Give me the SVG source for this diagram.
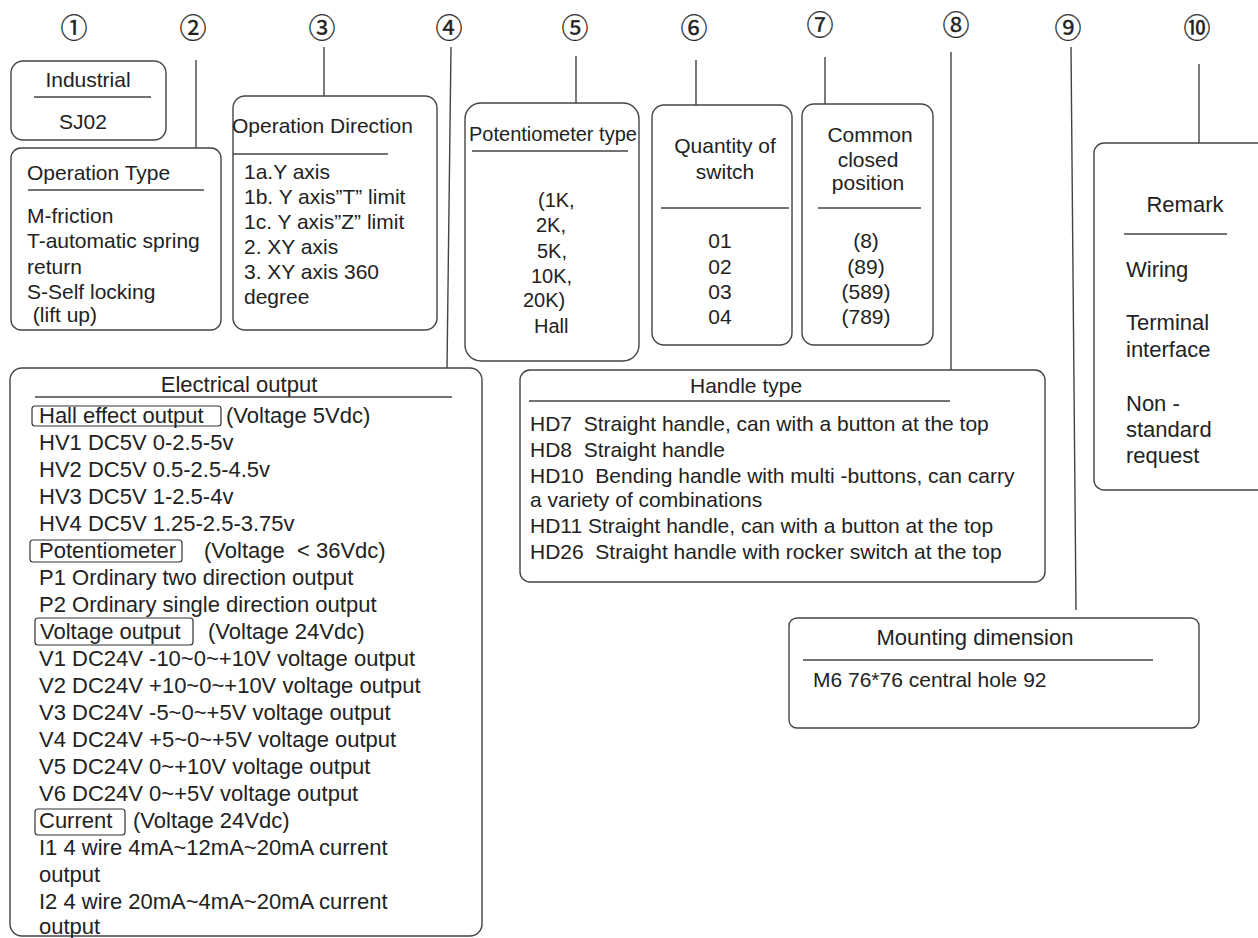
<svg xmlns="http://www.w3.org/2000/svg" width="1258" height="938" viewBox="0 0 1258 938">
<style>
text{font-family:"Liberation Sans",Arial,sans-serif;fill:#222;white-space:pre}
.f22{font-size:22px}
.f21{font-size:21px}
.f20{font-size:20px}
.c{text-anchor:middle}
.num{font-family:"Noto Sans CJK SC","DejaVu Sans",sans-serif;font-size:27px;text-anchor:middle;fill:#222;stroke:#222;stroke-width:0.3}
.box{fill:none;stroke:#444;stroke-width:1.4}
.sep{stroke:#444;stroke-width:1.4}
.lbl{fill:none;stroke:#333;stroke-width:1.2}
.con{stroke:#444;stroke-width:1.4;fill:none}
</style>
<rect width="1258" height="938" fill="#fff"/>

<g id="numbers">
<text class="num" x="74" y="37.5">①</text>
<text class="num" x="193" y="37.5">②</text>
<text class="num" x="322" y="37.5">③</text>
<text class="num" x="449" y="37.5">④</text>
<text class="num" x="575" y="37.5">⑤</text>
<text class="num" x="694" y="37.5">⑥</text>
<text class="num" x="820" y="34.5">⑦</text>
<text class="num" x="956" y="34.5">⑧</text>
<text class="num" x="1068" y="37.5">⑨</text>
<text class="num" x="1197" y="37.5">⑩</text>
</g>

<g id="connectors">
<line class="con" x1="196" y1="60" x2="196" y2="148"/>
<line class="con" x1="324" y1="47" x2="324" y2="96"/>
<line class="con" x1="451" y1="47" x2="447" y2="368"/>
<line class="con" x1="576" y1="56" x2="576" y2="103"/>
<line class="con" x1="696" y1="60" x2="696" y2="105"/>
<line class="con" x1="825" y1="57" x2="825" y2="104"/>
<line class="con" x1="951" y1="52" x2="951" y2="370"/>
<line class="con" x1="1071" y1="47" x2="1076" y2="610"/>
<line class="con" x1="1199" y1="64" x2="1199" y2="143"/>
</g>

<g id="industrial">
<rect class="box" x="11" y="61" width="155" height="79" rx="12"/>
<text class="f21 c" x="88" y="87">Industrial</text>
<line class="sep" x1="34" y1="97" x2="151" y2="97"/>
<text class="f21 c" x="83" y="129">SJ02</text>
</g>

<g id="operation-type">
<rect class="box" x="11" y="148" width="210" height="182" rx="10"/>
<text class="f21" x="27" y="180">Operation Type</text>
<line class="sep" x1="28" y1="190" x2="204" y2="190"/>
<text class="f21" x="27" y="223">M-friction</text>
<text class="f21" x="27" y="248">T-automatic spring</text>
<text class="f21" x="27" y="274">return</text>
<text class="f21" x="27" y="299">S-Self locking</text>
<text class="f21" x="27" y="322"> (lift up)</text>
</g>

<g id="operation-direction">
<rect class="box" x="233" y="96" width="204" height="234" rx="12"/>
<text class="f21" x="232" y="133">Operation Direction</text>
<line class="sep" x1="233" y1="154" x2="388" y2="154"/>
<text class="f21" x="244" y="179">1a.Y axis</text>
<text class="f21" x="244" y="204">1b. Y axis”T” limit</text>
<text class="f21" x="244" y="229">1c. Y axis”Z” limit</text>
<text class="f21" x="244" y="254">2. XY axis</text>
<text class="f21" x="244" y="279">3. XY axis 360</text>
<text class="f21" x="244" y="304">degree</text>
</g>

<g id="potentiometer-type">
<rect class="box" x="465" y="103" width="174" height="258" rx="16"/>
<text class="f20" x="469" y="141">Potentiometer type</text>
<line class="sep" x1="472" y1="151" x2="628" y2="151"/>
<text class="f20" x="538" y="207">(1K,</text>
<text class="f20" x="536" y="232">2K,</text>
<text class="f20" x="537" y="258">5K,</text>
<text class="f20" x="531" y="283">10K,</text>
<text class="f20" x="523" y="307">20K)</text>
<text class="f20" x="534" y="333">Hall</text>
</g>

<g id="quantity-of-switch">
<rect class="box" x="652" y="105" width="140" height="240" rx="12"/>
<text class="f21 c" x="725" y="153">Quantity of</text>
<text class="f21 c" x="725" y="179">switch</text>
<line class="sep" x1="661" y1="208" x2="789" y2="208"/>
<text class="f21 c" x="720" y="248">01</text>
<text class="f21 c" x="720" y="274">02</text>
<text class="f21 c" x="720" y="299">03</text>
<text class="f21 c" x="720" y="324">04</text>
</g>

<g id="common-closed-position">
<rect class="box" x="802" y="104" width="131" height="241" rx="12"/>
<text class="f21 c" x="870" y="142">Common</text>
<text class="f21 c" x="868" y="167">closed</text>
<text class="f21 c" x="868" y="190">position</text>
<line class="sep" x1="818" y1="208" x2="921" y2="208"/>
<text class="f21 c" x="866" y="248">(8)</text>
<text class="f21 c" x="866" y="274">(89)</text>
<text class="f21 c" x="866" y="299">(589)</text>
<text class="f21 c" x="866" y="324">(789)</text>
</g>

<g id="remark">
<rect class="box" x="1094" y="143" width="180" height="347" rx="10"/>
<text class="f22 c" x="1185" y="212">Remark</text>
<line class="sep" x1="1124" y1="234" x2="1227" y2="234"/>
<text class="f22" x="1126" y="277">Wiring</text>
<text class="f22" x="1126" y="330">Terminal</text>
<text class="f22" x="1126" y="357">interface</text>
<text class="f22" x="1126" y="411">Non -</text>
<text class="f22" x="1126" y="437">standard</text>
<text class="f22" x="1126" y="463">request</text>
</g>

<g id="electrical-output">
<rect class="box" x="10" y="368" width="472" height="568" rx="12"/>
<text class="f22 c" x="239" y="392">Electrical output</text>
<line class="sep" x1="35" y1="397" x2="452" y2="397"/>
<rect class="lbl" x="32" y="406" width="189" height="20" rx="3"/>
<text class="f22" x="39" y="423">Hall effect output </text>
<text class="f22" x="226" y="423">(Voltage 5Vdc)</text>
<text class="f22" x="39" y="450">HV1 DC5V 0-2.5-5v</text>
<text class="f22" x="39" y="477">HV2 DC5V 0.5-2.5-4.5v</text>
<text class="f22" x="39" y="504">HV3 DC5V 1-2.5-4v</text>
<text class="f22" x="39" y="531">HV4 DC5V 1.25-2.5-3.75v</text>
<rect class="lbl" x="30" y="540" width="152" height="22" rx="3"/>
<text class="f22" x="39" y="558">Potentiometer</text>
<text class="f22" x="204" y="558">(Voltage  &lt; 36Vdc)</text>
<text class="f22" x="39" y="585">P1 Ordinary two direction output</text>
<text class="f22" x="39" y="612">P2 Ordinary single direction output</text>
<rect class="lbl" x="35" y="618" width="158" height="27" rx="3"/>
<text class="f22" x="40" y="639">Voltage output</text>
<text class="f22" x="208" y="639">(Voltage 24Vdc)</text>
<text class="f22" x="39" y="666">V1 DC24V -10~0~+10V voltage output</text>
<text class="f22" x="39" y="693">V2 DC24V +10~0~+10V voltage output</text>
<text class="f22" x="39" y="720">V3 DC24V -5~0~+5V voltage output</text>
<text class="f22" x="39" y="747">V4 DC24V +5~0~+5V voltage output</text>
<text class="f22" x="39" y="774">V5 DC24V 0~+10V voltage output</text>
<text class="f22" x="39" y="801">V6 DC24V 0~+5V voltage output</text>
<rect class="lbl" x="35" y="809" width="90" height="26" rx="3"/>
<text class="f22" x="39" y="828">Current</text>
<text class="f22" x="133" y="828">(Voltage 24Vdc)</text>
<text class="f22" x="39" y="855">I1 4 wire 4mA~12mA~20mA current</text>
<text class="f22" x="39" y="882">output</text>
<text class="f22" x="39" y="909">I2 4 wire 20mA~4mA~20mA current</text>
<text class="f22" x="39" y="934">output</text>
</g>

<g id="handle-type">
<rect class="box" x="520" y="370" width="525" height="212" rx="10"/>
<text class="f21" x="690" y="393">Handle type</text>
<line class="sep" x1="529" y1="401" x2="950" y2="401"/>
<text class="f21" x="530" y="431">HD7  Straight handle, can with a button at the top</text>
<text class="f21" x="530" y="457">HD8  Straight handle</text>
<text class="f21" x="530" y="483">HD10  Bending handle with multi -buttons, can carry</text>
<text class="f21" x="530" y="507">a variety of combinations</text>
<text class="f21" x="530" y="533">HD11 Straight handle, can with a button at the top</text>
<text class="f21" x="530" y="559">HD26  Straight handle with rocker switch at the top</text>
</g>

<g id="mounting-dimension">
<rect class="box" x="789" y="618" width="410" height="110" rx="8"/>
<text class="f22 c" x="975" y="645">Mounting dimension</text>
<line class="sep" x1="803" y1="660" x2="1153" y2="660"/>
<text class="f21" x="813" y="687">M6 76*76 central hole 92</text>
</g>
</svg>
